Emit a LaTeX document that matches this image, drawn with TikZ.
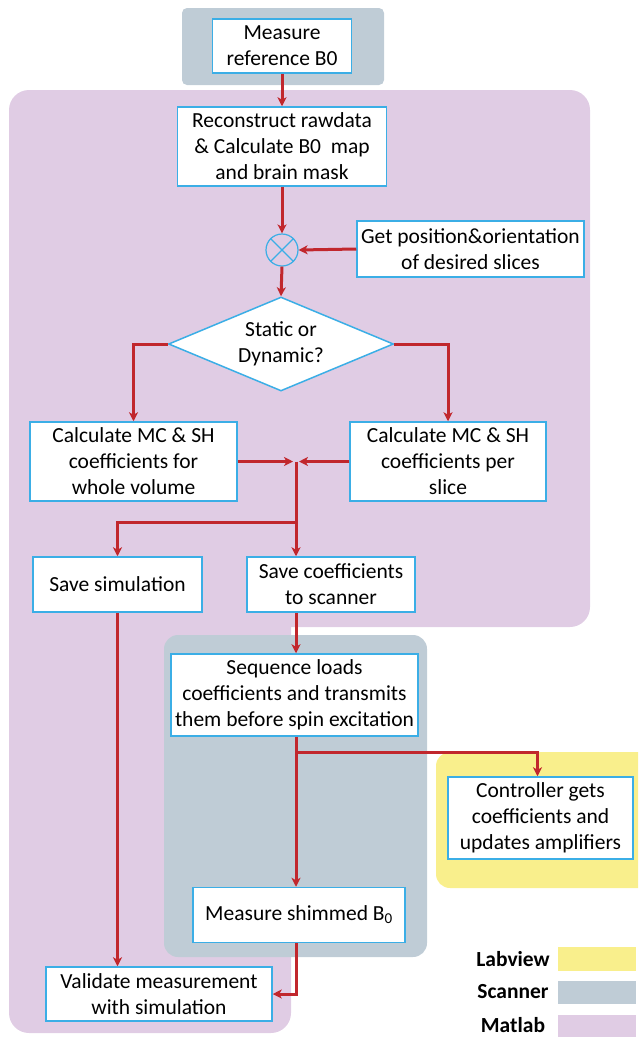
\documentclass[tikz,border=0pt]{standalone}
\usepackage{fontspec}
\setmainfont{Carlito}
\usetikzlibrary{arrows.meta,shapes.geometric}
\definecolor{matlab}{HTML}{E0CCE4}
\definecolor{scanner}{HTML}{BFCCD6}
\definecolor{labview}{HTML}{F9EF8C}
\definecolor{boxblue}{HTML}{3BAEE6}
\definecolor{arrred}{HTML}{C1272D}
\newcommand\fs{\fontsize{21.5}{26}\selectfont}
\begin{document}
\begin{tikzpicture}[x=1pt,y=-1pt,
 procbox/.style={draw=boxblue, line width=1.5pt, fill=white, align=center, inner sep=1pt, font=\fs},
 arr/.style={draw=arrred, line width=3pt, -{Stealth[length=9pt,width=9pt,inset=2.5pt]}},
 legtext/.style={font=\fs\bfseries}]
\useasboundingbox (0,0) rectangle (638,1037);
\begin{scope}
\clip (0,0) rectangle (638,1037);
\fill[scanner, rounded corners=5pt] (182,8) rectangle (384,85);
\fill[matlab, rounded corners=20pt] (9,90) rectangle (590,627);
\fill[matlab, rounded corners=20pt] (9,500) rectangle (291,1033);
\fill[scanner, rounded corners=14pt] (164,635) rectangle (427,957);
\fill[labview, rounded corners=14pt] (436,752) rectangle (660,888);
\fill[labview] (558,947) rectangle (636,971);
\fill[scanner] (558,981) rectangle (636,1004);
\fill[matlab] (558,1015) rectangle (636,1045);
\end{scope}

\node[procbox, minimum width=139pt, minimum height=54pt] (meas) at (282,46) {Measure\\reference B0};
\node[procbox, minimum width=209pt, minimum height=79pt] (recon) at (282,146.5) {Reconstruct rawdata\\\& Calculate B0\ \ map\\and brain mask};
\node[draw=boxblue, line width=1.2pt, circle, minimum size=32pt, inner sep=0pt] (sum) at (282,250) {};
\draw[boxblue, line width=1.2pt] (sum.north west) -- (sum.south east) (sum.north east) -- (sum.south west);
\node[procbox, minimum width=227pt, minimum height=56pt] (get) at (470.5,249) {Get position\&orientation\\of desired slices};
\node[procbox, diamond, aspect=2.4, inner sep=0pt, minimum width=225pt, minimum height=94pt] (dec) at (281,344) {Static or\\Dynamic?};
\node[procbox, minimum width=207pt, minimum height=79pt] (lcalc) at (133.5,461.5) {Calculate MC \& SH\\coefficients for\\whole volume};
\node[procbox, minimum width=196pt, minimum height=79pt] (rcalc) at (448,461.5) {Calculate MC \& SH\\coefficients per\\slice};
\node[procbox, minimum width=169pt, minimum height=55pt] (ssim) at (117.5,584.5) {Save simulation};
\node[procbox, minimum width=168pt, minimum height=55pt] (scoef) at (331,584.5) {Save coefficients\\to scanner};
\node[procbox, minimum width=247pt, minimum height=82pt] (seq) at (294.5,695) {Sequence loads\\coefficients and transmits\\them before spin excitation};
\node[procbox, minimum width=185pt, minimum height=82pt] (ctrl) at (540.5,818) {Controller gets\\coefficients and\\updates amplifiers};
\node[procbox, minimum width=212pt, minimum height=55pt] (shim) at (299,915) {Measure shimmed B\textsubscript{0}};
\node[procbox, minimum width=226pt, minimum height=54pt] (valid) at (159,994) {Validate measurement\\with simulation};

\node[legtext] (lab) at (513,959) {Labview};
\node[legtext] (scn) at (513,992) {Scanner};
\node[legtext] (mat) at (513,1025) {Matlab};

\coordinate (J) at (296,461.5);
\coordinate (B) at (296,522);
\coordinate (B2) at (296,752);
\draw[arr] (meas) -- (recon);
\draw[arr] (recon.south) -- (sum.north);
\draw[arr] (get.west) -- (sum.east);
\draw[arr] (sum.south) -- (dec.north);
\draw[arr] (dec.west) -| (lcalc.north);
\draw[arr] (dec.east) -| (rcalc.north);
\draw[arr] (lcalc.east) -- ([xshift=-3pt]J);
\draw[arr] (rcalc.west) -- ([xshift=3pt]J);
\draw[arr] (J) -- (J |- scoef.north);
\draw[arr] (B) -| (ssim.north);
\draw[arr] (scoef.south -| J) -- (seq.north -| J);
\draw[arr] (seq.south -| J) -- (shim.north -| J);
\draw[arr] (B2) -| ([xshift=-3pt]ctrl.north);
\draw[arr] (shim.south -| J) |- (valid.east);
\draw[arr] (ssim.south) -- (ssim.south |- valid.north);
\end{tikzpicture}
\end{document}
